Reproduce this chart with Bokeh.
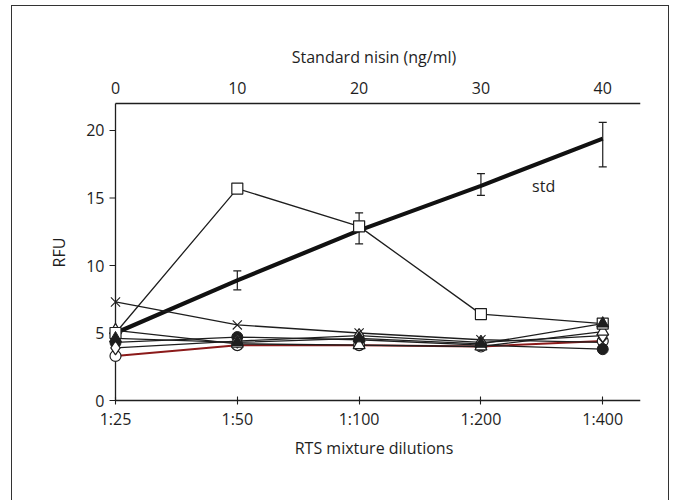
import math
from bokeh.plotting import figure
from bokeh.models import (Range1d, LinearAxis, FixedTicker, ColumnDataSource,
                          Whisker, TeeHead, Label)
from bokeh.embed import file_html
from bokeh.resources import INLINE

# ---- data ----
dilutions = ["1:25", "1:50", "1:100", "1:200", "1:400"]
nisin = [0, 10, 20, 30, 40]
rfu_ticks = [0, 5, 10, 15, 20]

std_vals = [5.0, 8.9, 12.6, 15.9, 19.4]
std_lower = [5.0, 8.2, 11.6, 15.2, 17.3]
std_upper = [5.0, 9.6, 13.9, 16.8, 20.6]

sq_open = [5.0, 15.7, 12.9, 6.4, 5.7]
cross = [7.3, 5.6, 5.0, 4.5, 4.3]
tri_filled = [4.6, 4.3, 4.6, 4.2, 5.7]
tri_open = [5.2, 4.2, 4.1, 4.0, 5.1]
diamond_open = [3.9, 4.4, 4.8, 4.3, 4.8]
circle_filled = [4.3, 4.7, 4.5, 4.1, 3.8]
circle_open = [3.3, 4.1, 4.1, 4.0, 4.4]

FONT = "Open Sans"
FS = "16px"
K = "#1e1e1e"
xi = list(range(len(dilutions)))

X0, X1 = -0.0657, 4.31
Y0, Y1 = -0.222, 22.148
YTOP = 22

p = figure(width=658, height=520, output_backend="svg", toolbar_location=None,
           x_range=Range1d(X0, X1), y_range=Range1d(Y0, Y1),
           min_border_left=95, min_border_right=30, min_border_top=95,
           min_border_bottom=123, x_axis_location=None, y_axis_location=None,
           margin=(5, 0, 0, 11),
           styles={"border-left": "1px solid #333", "border-top": "1px solid #333",
                   "border-right": "1px solid #333", "border-bottom": "none"})
p.extra_x_ranges = {"top": Range1d(X0 * 10, X1 * 10)}
p.grid.visible = False
p.outline_line_color = None
p.background_fill_color = "white"
p.border_fill_color = "white"


def style_axis(ax):
    ax.axis_line_color = None
    ax.major_tick_line_color = K
    ax.major_tick_line_width = 1.1
    ax.minor_tick_line_color = None
    ax.major_label_text_font = FONT
    ax.major_label_text_font_size = FS
    ax.major_label_text_color = K
    ax.axis_label_text_font = FONT
    ax.axis_label_text_font_size = FS
    ax.axis_label_text_font_style = "normal"
    ax.axis_label_text_color = K


bottom = LinearAxis(ticker=FixedTicker(ticks=xi), axis_label="RTS mixture dilutions")
bottom.major_label_overrides = {i: d for i, d in zip(xi, dilutions)}
style_axis(bottom)
bottom.major_tick_in = 7
bottom.major_tick_out = 1
bottom.major_label_standoff = 3
bottom.axis_label_standoff = 4
p.add_layout(bottom, "below")

left = LinearAxis(ticker=FixedTicker(ticks=rfu_ticks), axis_label="RFU")
style_axis(left)
left.major_tick_line_color = None
left.major_tick_in = 0
left.major_tick_out = 0
left.major_label_standoff = 3
left.axis_label_standoff = 13
p.add_layout(left, "left")

top = LinearAxis(x_range_name="top", ticker=FixedTicker(ticks=nisin),
                 axis_label="Standard nisin (ng/ml)")
style_axis(top)
top.major_tick_line_color = None
top.major_tick_in = 0
top.major_tick_out = 0
top.major_label_standoff = 8
top.axis_label_standoff = 11
p.add_layout(top, "above")

# axis lines that start at the y axis, and the y axis with outward ticks
p.segment(x0=[0, 0, 0], y0=[0, YTOP, 0], x1=[X1, X1, 0], y1=[0, YTOP, YTOP],
          line_color=K, line_width=1.3)
p.ray(x=[0] * len(rfu_ticks), y=rfu_ticks, length=6, length_units="screen",
      angle=math.pi, line_color=K, line_width=1.1)

# std line (top axis scale)
p.line(nisin, std_vals, x_range_name="top", line_color="#111111", line_width=4.2)
src = ColumnDataSource(dict(x=nisin, lower=std_lower, upper=std_upper))
wh = Whisker(base="x", lower="lower", upper="upper", source=src, x_range_name="top",
             line_color=K, line_width=1.2,
             lower_head=TeeHead(size=8, line_color=K, line_width=1.2),
             upper_head=TeeHead(size=8, line_color=K, line_width=1.2))
p.add_layout(wh)
p.add_layout(Label(x=34.2, y=15.9, x_range_name="top", text="std",
                   text_font=FONT, text_font_size=FS, text_color=K,
                   text_baseline="middle"))

LW = 1.3
p.line(xi, circle_open, line_color="#8b1a1a", line_width=2)
p.line(xi, circle_filled, line_color=K, line_width=LW)
p.line(xi, diamond_open, line_color=K, line_width=LW)
p.line(xi, tri_open, line_color=K, line_width=LW)
p.line(xi, tri_filled, line_color=K, line_width=LW)
p.line(xi, cross, line_color=K, line_width=LW)
p.line(xi, sq_open, line_color=K, line_width=LW)

p.scatter(xi, circle_open, marker="circle", size=11, fill_color="white", line_color=K, line_width=1.2)
p.scatter(xi, circle_filled, marker="circle", size=11, fill_color=K, line_color=K)
p.scatter(xi, diamond_open, marker="diamond", size=14, fill_color="white", line_color=K, line_width=1.2)
p.scatter(xi, tri_open, marker="triangle", size=12, fill_color="white", line_color=K, line_width=1.2)
p.scatter(xi, sq_open, marker="square", size=11, fill_color="white", line_color=K, line_width=1.2)
p.scatter(xi, tri_filled, marker="triangle", size=12, fill_color=K, line_color=K)
p.scatter(xi, cross, marker="x", size=13, line_color=K, line_width=1.1)

open("out.html", "w").write(file_html(p, INLINE))
